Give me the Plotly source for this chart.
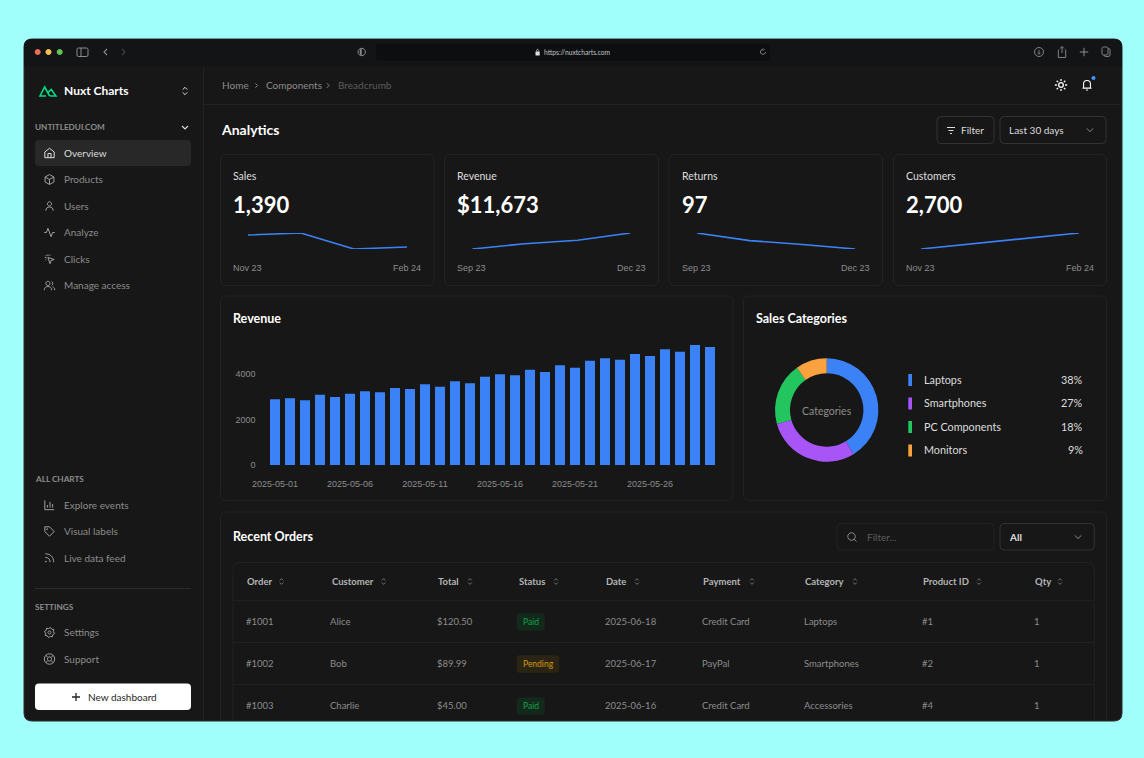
import re, math
import plotly.graph_objects as go

# ---------- data ----------
bar_dates = [f"2025-05-{d:02d}" for d in range(1, 31)]
bar_values = [2886, 2930, 2842, 3091, 2989, 3135, 3238, 3194, 3384, 3340,
              3545, 3443, 3677, 3589, 3882, 3985, 3941, 4190, 4087, 4380,
              4278, 4585, 4688, 4629, 4878, 4790, 5084, 4981, 5274, 5186]
bar_yticks = [0, 2000, 4000]
bar_xticks = bar_dates[0::5][:6]

donut_labels = ["Laptops", "Smartphones", "PC Components", "Monitors"]
donut_values = [38, 27, 18, 9]
donut_colors = ["#3b82f6", "#a855f7", "#22c55e", "#f9a23f"]

kpi_titles = ["Sales", "Revenue", "Returns", "Customers"]
kpi_values = ["1,390", "$11,673", "97", "2,700"]
kpi_start = ["Nov 23", "Sep 23", "Sep 23", "Nov 23"]
kpi_end = ["Feb 24", "Dec 23", "Dec 23", "Feb 24"]
spark_sales = [1340, 1390, 1000, 1050]
spark_revenue = [9000, 9885, 10450, 11673]
spark_returns = [97, 70, 56, 40]
spark_customers = [2000, 2230, 2470, 2700]

nav_main = ["Overview", "Products", "Users", "Analyze", "Clicks", "Manage access"]
nav_charts = ["Explore events", "Visual labels", "Live data feed"]
nav_settings = ["Settings", "Support"]

table_headers = ["Order", "Customer", "Total", "Status", "Date", "Payment", "Category", "Product ID", "Qty"]
table_rows = [
    ["#1001", "Alice", "$120.50", "Paid", "2025-06-18", "Credit Card", "Laptops", "#1", "1"],
    ["#1002", "Bob", "$89.99", "Pending", "2025-06-17", "PayPal", "Smartphones", "#2", "1"],
    ["#1003", "Charlie", "$45.00", "Paid", "2025-06-16", "Credit Card", "Accessories", "#4", "1"],
]

# ---------- style ----------
W, H = 1144, 758
F = "Lato"
AX = "Liberation Sans"
BG = "#a1fffb"; WIN = "#171717"; BAR = "#131416"; LINE = "#222222"; BTN = "#333333"
MUTED = "#8c8c8c"; DIM = "#5c5c5c"; WHITE = "#ffffff"; SOFT = "#dedede"; BLUE = "#3b82f6"
BODY = 10

shapes, ann = [], []

def rr(x0, y0, x1, y1, r):
    return (f"M{x0+r} {y0} L{x1-r} {y0} Q{x1} {y0} {x1} {y0+r} L{x1} {y1-r} Q{x1} {y1} {x1-r} {y1} "
            f"L{x0+r} {y1} Q{x0} {y1} {x0} {y1-r} L{x0} {y0+r} Q{x0} {y0} {x0+r} {y0} Z")

def open_bottom(x0, y0, x1, y1, r):
    return f"M{x0} {y1} L{x0} {y0+r} Q{x0} {y0} {x0+r} {y0} L{x1-r} {y0} Q{x1} {y0} {x1} {y0+r} L{x1} {y1}"

def circ(cx, cy, r):
    k = 0.5523 * r
    return (f"M{cx+r} {cy} C{cx+r} {cy+k} {cx+k} {cy+r} {cx} {cy+r} C{cx-k} {cy+r} {cx-r} {cy+k} {cx-r} {cy} "
            f"C{cx-r} {cy-k} {cx-k} {cy-r} {cx} {cy-r} C{cx+k} {cy-r} {cx+r} {cy-k} {cx+r} {cy} Z")

def P(path, fill=None, line=None, lw=1):
    shapes.append(dict(type="path", path=path, xref="x", yref="y", layer="below",
                       fillcolor=fill or "rgba(0,0,0,0)",
                       line=dict(color=line or "rgba(0,0,0,0)", width=lw if line else 0)))

def T(text, x, y, size=BODY, color=MUTED, anchor="left", weight=400, family=F):
    nudge = {"left": -1, "right": 1, "center": 0}[anchor]
    ann.append(dict(text=text, x=x + nudge, y=y - 0.1, xref="x", yref="y", showarrow=False, xanchor=anchor, yanchor="middle",
                    borderpad=0, font=dict(family=family, size=size, color=color, weight=weight)))

def ic(path, cx, cy, size=12):
    s = size / 24
    out, i = [], 0
    for tok in re.findall(r"[A-Za-z]|-?[\d.]+", path):
        if tok.isalpha():
            out.append(tok); i = 0
        else:
            v = float(tok)
            out.append(f"{(v-12)*s+cx:.2f}" if i % 2 == 0 else f"{(v-12)*s+cy:.2f}")
            i += 1
    return " ".join(out)

gear_pts = []
for n in range(16):
    a = math.radians(n * 22.5 + 11)
    r = 10 if n % 2 == 0 else 7.6
    gear_pts.append(f"{12+r*math.cos(a):.2f} {12+r*math.sin(a):.2f}")
GEAR = "M" + " L".join(gear_pts) + " Z " + circ(12, 12, 3)
SUN = circ(12, 12, 4) + "".join(
    f" M{12+7*math.cos(math.radians(a)):.2f} {12+7*math.sin(math.radians(a)):.2f} L{12+10.5*math.cos(math.radians(a)):.2f} {12+10.5*math.sin(math.radians(a)):.2f}"
    for a in range(0, 360, 45))
ICONS = {
    "Overview": "M3 10 L12 3 L21 10 L21 21 L3 21 Z M9 21 L9 13 L15 13 L15 21",
    "Products": "M12 2.5 L20.5 7.2 L20.5 16.8 L12 21.5 L3.5 16.8 L3.5 7.2 Z M3.5 7.2 L12 12 L20.5 7.2 M12 12 L12 21.5",
    "Users": circ(12, 8, 4) + " M5 21 C5 16 8 14 12 14 C16 14 19 16 19 21",
    "Analyze": "M2 12 L6 12 L9 4 L15 20 L18 12 L22 12",
    "Clicks": "M9 9 L21 13 L15 15 L13 21 Z M3 9 L6 9 M9 3 L9 6 M4.5 4.5 L6.5 6.5 M4 14 L6 12 M14 4 L12 6",
    "Manage access": circ(9, 8, 4) + " M2 21 C2 16 5 14 9 14 C13 14 16 16 16 21 M16 4.2 C19 5 19 11 16 11.8 M18 14.5 C20.5 15 22 17 22 21",
    "Explore events": "M3 3 L3 21 L21 21 M8 17 L8 12 M13 17 L13 6 M18 17 L18 10",
    "Visual labels": "M3 3 L12 3 L21 12 L12 21 L3 12 Z " + circ(7.5, 7.5, 1),
    "Live data feed": "M4 11 C10 11 13 14 13 20 M4 4 C14 4 20 10 20 20 " + circ(5, 19, 1),
    "Settings": GEAR,
    "Support": circ(12, 12, 10) + " " + circ(12, 12, 4) + " M5 5 L9 9 M19 5 L15 9 M5 19 L9 15 M19 19 L15 15",
}
CHEV_D = "M6 9 L12 15 L18 9"
CHEV_R = "M9 6 L15 12 L9 18"
CHEV_L = "M15 6 L9 12 L15 18"
UPDOWN = "M7 9 L12 4 L17 9 M7 15 L12 20 L17 15"
NAV_ICON = 12.5
NAV_ICON_COLOR = "#a0a0a0"

# ---------- chrome ----------
P(rr(24, 39, 1122, 721, 8), fill=WIN, line="#2a2a2a", lw=1)
P("M24 66.5 L24 47 Q24 39 32 39 L1114 39 Q1122 39 1122 47 L1122 66.5 Z", fill=BAR)
for cx, c in zip([37.7, 48.5, 59.7], ["#ed6a5e", "#f4bf4f", "#61c554"]):
    P(circ(cx, 52, 3), fill=c)
P(rr(77, 48, 88, 56.5, 1.5), line=MUTED, lw=1)
P("M81 48 L81 56.5", line=MUTED, lw=1)
P(ic(CHEV_L, 105.5, 52, 12), line=MUTED, lw=1.1)
P(ic(CHEV_R, 123.5, 52, 12), line="#444444", lw=1.1)
P(circ(361.7, 52, 3.7), line=MUTED, lw=1)
P("M361.7 48.3 C359 48.5 359 55.5 361.7 55.7 Z", fill=MUTED)
P(rr(376, 44, 770, 60.7, 3), fill="#0c0e10")
P(rr(535.5, 51.5, 539.7, 55.5, 0.6), fill=SOFT)
P("M536.4 51.5 C536.4 48.6 538.8 48.6 538.8 51.5", line=SOFT, lw=0.7)
T("https://nuxtcharts.com", 543.5, 52.5, 6.7, "#c4c4c4")
P(ic("M19 12 C19 20 5 20 5 12 C5 8 8 5.5 12 5.5 M12 2.5 L15 5.5 L12 8.5", 763, 52, 9), line=MUTED, lw=0.9)
P(circ(1039, 52, 4.5), line=MUTED, lw=0.9)
P("M1039 49.8 L1039 54 M1037.5 52.8 L1039 54.2 L1040.5 52.8", line=MUTED, lw=0.8)
P("M1059 50 L1058.3 50 L1058.3 57.5 L1065.7 57.5 L1065.7 50 L1065 50 M1062 53 L1062 46.7 M1060 48.5 L1062 46.5 L1064 48.5", line=MUTED, lw=0.9)
P("M1084 47.8 L1084 56.2 M1079.8 52 L1088.2 52", line=MUTED, lw=1)
P(rr(1104, 48.5, 1110, 56.5, 1.5), line=MUTED, lw=0.9)
P(rr(1102, 47, 1108, 55, 1.5), fill=BAR, line=MUTED, lw=0.9)

P("M203.5 67 L203.5 721", line=LINE)
P("M204 104.5 L1122 104.5", line=LINE)

# sidebar
P("M46 96 L40 96 L44.7 87 L49.6 96", line="#00dc82", lw=1.6)
P("M47.8 92.6 L51.3 89.5 L55.9 96 L50 96", line="#00dc82", lw=1.6)
T("Nuxt Charts", 64, 91, 12, WHITE, weight=700)
P(ic("M7 9 L12 4 L17 9 M7 15 L12 20 L17 15", 185, 91, 11), line=SOFT, lw=1)
T("UNTITLEDUI.COM", 35, 127.5, 8.2, MUTED, weight=700)
P(ic(CHEV_D, 185, 127.5, 12), line=SOFT, lw=1.1)
P(rr(35, 140, 191, 166, 4), fill="#282828")

nav_positions = [153, 179.5, 206, 232.5, 259, 285.5]
for name, y in zip(nav_main, nav_positions):
    col = SOFT if name == "Overview" else MUTED
    T(name, 64, y, BODY, col)
    P(ic(ICONS[name], 49.5, y, NAV_ICON), line=SOFT if name == "Overview" else NAV_ICON_COLOR, lw=1)
T("ALL CHARTS", 35, 479.5, 8.2, MUTED, weight=700)
for name, y in zip(nav_charts, [505, 531.5, 558]):
    T(name, 64, y, BODY)
    P(ic(ICONS[name], 49.5, y, NAV_ICON), line=NAV_ICON_COLOR, lw=1)
P("M35 588.5 L191 588.5", line="#2c2c2c")
T("SETTINGS", 35, 607, 8.2, MUTED, weight=700)
for name, y in zip(nav_settings, [632.5, 659]):
    T(name, 64, y, BODY)
    P(ic(ICONS[name], 49.5, y, NAV_ICON), line=NAV_ICON_COLOR, lw=1)
P(rr(35, 683.5, 191, 710, 4), fill="#ffffff")
P("M72 697 L80 697 M76 693 L76 701", line="#222222", lw=1.3)
T("New dashboard", 88, 697, BODY, "#262626")

# header
T("Home", 222, 85.5, BODY)
P(ic(CHEV_R, 256.5, 85.5, 9), line=MUTED, lw=0.9)
T("Components", 266, 85.5, BODY)
P(ic(CHEV_R, 328, 85.5, 9), line=MUTED, lw=0.9)
T("Breadcrumb", 338, 85.5, BODY, DIM)
P(ic(SUN, 1061, 85, 14), line=WHITE, lw=1.3)
P(ic("M6 17 C7 15 6.5 12 6.5 10 C6.5 3 17.5 3 17.5 10 C17.5 12 17 15 18 17 Z M10.5 20 L13.5 20", 1087, 85, 15), line=WHITE, lw=1.1)
P(circ(1093.5, 78, 2), fill="#3b9bf6")
T("Analytics", 220.5, 130, 14, WHITE, weight=700)
P(rr(937, 116.5, 994, 143.5, 4), line=BTN)
P("M947 127.5 L955 127.5 M948.5 130.5 L953.5 130.5 M950 133.5 L952 133.5", line=SOFT, lw=1)
T("Filter", 961, 130, BODY, SOFT)
P(rr(1000, 116.5, 1106, 143.5, 4), line=BTN)
T("Last 30 days", 1009, 130, BODY, SOFT)
P(ic(CHEV_D, 1090, 130, 13), line=MUTED, lw=1)

# KPI cards
card_x = [(220.5, 434), (444.5, 658.5), (669, 882.5), (893.5, 1106.5)]
for (x0, x1), t, v, a, b in zip(card_x, kpi_titles, kpi_values, kpi_start, kpi_end):
    P(rr(x0, 154.5, x1, 285.5, 6), line=LINE)
    T(t, x0 + 12.5, 176, 10.5, SOFT)
    T(v, x0 + 12.5, 204.5, 22, WHITE, weight=700)
    T(a, x0 + 12.5, 268, 9, MUTED, family=AX)
    T(b, x1 - 13, 268, 9, MUTED, anchor="right", family=AX)

# chart cards
P(rr(220.5, 296, 733, 500.5, 6), line=LINE)
T("Revenue", 233, 319, 12.5, WHITE, weight=700)
P(rr(743.5, 296, 1106.5, 500.5, 6), line=LINE)
T("Sales Categories", 756, 319, 12.5, WHITE, weight=700)
T("Categories", 826.7, 411, 10.5, MUTED, anchor="center")
for lab, val, col, y in zip(donut_labels, donut_values, donut_colors, [380, 403.5, 427, 450.5]):
    P(f"M908.3 {y-6} L912 {y-6} L912 {y+6} L908.3 {y+6} Z", fill=col)
    T(lab, 923.7, y - 0.5, 10.8, SOFT)
    T(f"{val}%", 1082.7, y - 0.5, 10.8, SOFT, anchor="right")

# table
P(open_bottom(220.5, 512, 1106.5, 721, 6), line=LINE)
T("Recent Orders", 233, 537, 12.5, WHITE, weight=700)
P(rr(837, 523.5, 994, 550, 4), line=LINE)
P(ic(circ(11, 11, 7.5) + " M16.5 16.5 L21 21", 852, 537, 12), line=MUTED, lw=1)
T("Filter...", 866.5, 537, 10, DIM)
P(rr(1000, 523.5, 1094.3, 550, 4), line=BTN)
T("All", 1009, 537, 10, SOFT, weight=700)
P(ic(CHEV_D, 1078, 537, 13), line=MUTED, lw=1)
P(open_bottom(233, 562.5, 1094.3, 721, 8), line=LINE)
for y in [600.7, 642.5, 684.3]:
    P(f"M233 {y} L1094.3 {y}", line=LINE)

head_x = [247, 331.5, 438, 518.5, 606, 703, 805, 923, 1035]
sort_x = [281.5, 383.5, 470, 556, 637, 752, 855, 979, 1060]
cell_x = [246, 330, 436.5, 518.5, 605, 702, 804, 921.5, 1034]
row_y = [622, 664, 706]
for h, x, sx in zip(table_headers, head_x, sort_x):
    T(h, x, 582, 9.5, "#b4b4b4", weight=700)
    P(ic(UPDOWN, sx, 581.5, 8.5), line=MUTED, lw=0.8)
for row, y in zip(table_rows, row_y):
    for j, (c, x) in enumerate(zip(row, cell_x)):
        if j == 3:
            paid = c == "Paid"
            x1 = 544.7 if paid else 559.3
            P(rr(516.7, y - 8.8, x1, y + 8.8, 3), fill="#12291c" if paid else "#2b2414")
            T(c, (516.7 + x1) / 2, y, 8.5, "#16a34a" if paid else "#d19a0a", anchor="center")
        else:
            T(c, x, y, 9.5, MUTED)

# ---------- figure ----------
fig = go.Figure()
fig.add_trace(go.Scatter(x=[0], y=[0], mode="markers", marker=dict(size=1, opacity=0),
                         hoverinfo="skip", showlegend=False, xaxis="x", yaxis="y"))
fig.add_trace(go.Bar(x=bar_dates, y=bar_values, marker=dict(color=BLUE, line=dict(width=0)),
                     showlegend=False, xaxis="x2", yaxis="y2"))
fig.add_trace(go.Pie(values=donut_values, labels=donut_labels, hole=0.71, sort=False, direction="clockwise",
                     rotation=0, textinfo="none", showlegend=False,
                     marker=dict(colors=donut_colors, line=dict(width=0)),
                     domain=dict(x=[775.0 / W, 878.4 / W], y=[1 - 461.7 / H, 1 - 358.3 / H])))

def xdom(a, b): return [a / W, b / W]
def ydom(t, b): return [1 - b / H, 1 - t / H]

spark_x = [(247.7, 407), (472.2, 630.3), (696.8, 855.3), (920.9, 1078.9)]
spark_series = [spark_sales, spark_revenue, spark_returns, spark_customers]
layout_axes = {}
for i, (dom, ser) in enumerate(zip(spark_x, spark_series)):
    n = i + 3
    fig.add_trace(go.Scatter(x=list(range(len(ser))), y=ser, mode="lines", line=dict(color=BLUE, width=1.6),
                             cliponaxis=False, showlegend=False, xaxis=f"x{n}", yaxis=f"y{n}"))
    layout_axes[f"xaxis{n}"] = dict(domain=xdom(*dom), range=[0, len(ser) - 1], visible=False, anchor=f"y{n}", automargin=False)
    layout_axes[f"yaxis{n}"] = dict(domain=ydom(233, 249), range=[min(ser), max(ser)], visible=False, anchor=f"x{n}", automargin=False)

fig.update_layout(
    template="none",
    width=W, height=H, autosize=False, margin=dict(l=0, r=0, t=0, b=0, pad=0),
    paper_bgcolor=BG, plot_bgcolor="rgba(0,0,0,0)", showlegend=False, bargap=1 / 3,
    xaxis=dict(domain=[0, 1], range=[0, W], visible=False, fixedrange=True, automargin=False),
    yaxis=dict(domain=[0, 1], range=[H, 0], visible=False, fixedrange=True, automargin=False),
    xaxis2=dict(domain=xdom(267.5, 717.5), anchor="y2", type="category", categoryorder="array", categoryarray=bar_dates,
                range=[-0.5, 29.5], tickvals=bar_xticks, ticktext=bar_xticks, showgrid=False, zeroline=False,
                showline=False, ticks="", ticklabelstandoff=12, tickangle=0, automargin=False,
                tickfont=dict(family=AX, size=9, color=MUTED)),
    yaxis2=dict(domain=ydom(465 - 5300 * 0.02275, 465), anchor="x2", range=[0, 5300], tickvals=bar_yticks,
                tickformat="d", showgrid=False, zeroline=False, showline=False, ticks="", ticklabelstandoff=11,
                automargin=False, tickfont=dict(family=AX, size=9, color=MUTED)),
    shapes=shapes, annotations=ann, **layout_axes,
)

fig.write_html("out.html", config={"displayModeBar": False},
               post_script="document.body.style.margin='0';document.body.style.overflow='hidden';document.body.style.background='#a1fffb';")
